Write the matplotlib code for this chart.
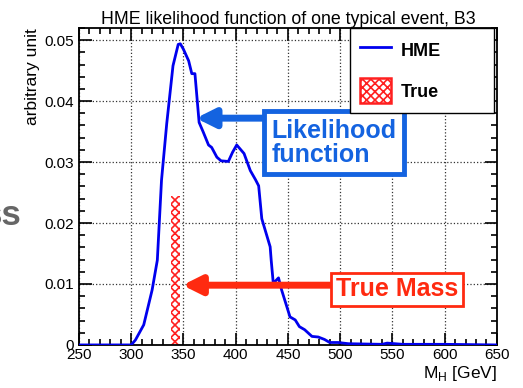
import numpy as np
import matplotlib.pyplot as plt
from matplotlib.ticker import MultipleLocator
from matplotlib.patches import Patch
from matplotlib.lines import Line2D

plt.rcParams['font.family'] = ['Liberation Sans', 'DejaVu Sans']
plt.rcParams['hatch.linewidth'] = 1.2

# HME likelihood curve (mass in GeV, arbitrary units)
mass = [250, 300, 304, 312, 320, 325, 329, 334, 340, 345, 347, 350, 355, 358,
        361, 365, 369, 374, 377, 382, 386, 393, 397, 401, 408, 414, 419, 422,
        425, 433, 434, 436, 441, 444, 452, 457, 461, 466, 473, 479, 485, 490,
        498, 508, 540, 545, 560, 600, 650]
likelihood = [0, 0, 0.0008, 0.0033, 0.009, 0.0139, 0.027, 0.0363, 0.0458,
              0.0493, 0.0494, 0.0485, 0.0466, 0.0445, 0.0445, 0.0365, 0.0349,
              0.0328, 0.0324, 0.0308, 0.0302, 0.0301, 0.0316, 0.0328, 0.0314,
              0.0286, 0.0271, 0.0261, 0.0207, 0.0161, 0.0139, 0.0101, 0.011,
              0.009, 0.0046, 0.0041, 0.003, 0.0025, 0.0014, 0.0013, 0.0009,
              0.0004, 0.0004, 0.0002, 0.0001, 0.0003, 0.0001, 0.0001, 0]

# true mass bin
true_lo, true_hi = 338.5, 346.5
true_height = 0.0245

fig = plt.figure(figsize=(5.23, 3.88), dpi=100)
ax = fig.add_axes([0.151, 0.111, 0.799, 0.817])

ax.bar((true_lo + true_hi) / 2, true_height, width=true_hi - true_lo,
       facecolor='white', edgecolor='#ff2020', hatch='xxxx', linewidth=0,
       zorder=2)
ax.plot(mass, likelihood, color='#0000ee', lw=2, zorder=3)

ax.set_xlim(250, 650)
ax.set_ylim(0, 0.052)
ax.xaxis.set_major_locator(MultipleLocator(50))
ax.xaxis.set_minor_locator(MultipleLocator(10))
ax.yaxis.set_major_locator(MultipleLocator(0.01))
ax.yaxis.set_minor_locator(MultipleLocator(0.002))
ax.set_yticks([0, 0.01, 0.02, 0.03, 0.04, 0.05])
ax.set_yticklabels(['0', '0.01', '0.02', '0.03', '0.04', '0.05'])
ax.tick_params(which='both', direction='in', top=True, right=True,
               labelsize=11, width=1.2)
ax.tick_params(which='major', length=9)
ax.tick_params(which='minor', length=4.5)
ax.tick_params(axis='x', pad=2)
ax.grid(True, which='major', linestyle=':', color='#333333', lw=0.9)
for s in ax.spines.values():
    s.set_linewidth(1.3)

ax.set_title('HME likelihood function of one typical event, B3',
             fontsize=12.8, pad=3)
ax.set_xlabel('M$_\\mathregular{H}$ [GeV]', fontsize=12.5, loc='right',
              labelpad=2)
ax.set_ylabel('arbitrary unit', fontsize=12.5, loc='top', labelpad=3)

handles = [Line2D([], [], color='#0000ee', lw=2),
           Patch(facecolor='white', edgecolor='#ff2020', hatch='xxxx', lw=1.8)]
leg = ax.legend(handles, ['HME', 'True'], loc='upper left',
                bbox_to_anchor=(0.648, 1.0, 0.345, 0.0), mode='expand',
                prop={'weight': 'bold', 'size': 13},
                fancybox=False, framealpha=1, edgecolor='black',
                borderpad=0.55, labelspacing=0.85, handlelength=1.75,
                handleheight=1.75, handletextpad=0.5, borderaxespad=0)
leg.get_frame().set_linewidth(1.0)

blue = '#1463e0'
red = '#ff2a10'
ax.annotate('', xy=(362, 0.0372), xytext=(426, 0.0372),
            arrowprops=dict(arrowstyle='-|>,head_length=1.1,head_width=0.55',
                            color=blue, lw=5, shrinkA=0, shrinkB=0))
ax.text(434, 0.0332, 'Likelihood\nfunction', color=blue, fontsize=18,
        fontweight='bold', ha='left', va='center', linespacing=1.0,
        bbox=dict(boxstyle='square,pad=0.3', facecolor='white',
                  edgecolor=blue, lw=3.5))
ax.annotate('', xy=(349, 0.0098), xytext=(491, 0.0098),
            arrowprops=dict(arrowstyle='-|>,head_length=1.1,head_width=0.55',
                            color=red, lw=5, shrinkA=0, shrinkB=0))
ax.text(496, 0.0091, 'True Mass', color=red, fontsize=18,
        fontweight='bold', ha='left', va='center',
        bbox=dict(boxstyle='square,pad=0.18', facecolor='white',
                  edgecolor=red, lw=2))

fig.text(0.042, 0.445, 'ss', color='#666666', fontsize=25,
         fontweight='bold', ha='right', va='center')

fig.savefig('out.png', dpi=100)
